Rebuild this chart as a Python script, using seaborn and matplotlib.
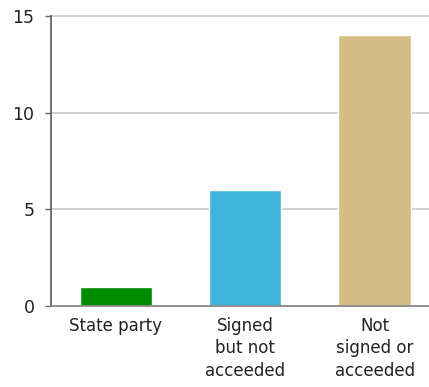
import matplotlib
matplotlib.use("Agg")
import matplotlib.pyplot as plt
import seaborn as sns
import pandas as pd

categories = ["State party", "Signed\nbut not\nacceeded", "Not\nsigned or\nacceeded"]
counts = [1, 6, 14]
colors = ["#008C00", "#41B4DC", "#D4BE86"]
yticks = [0, 5, 10, 15]

sns.set_style("white")
plt.rcParams["font.family"] = ["DejaVu Sans"]

df = pd.DataFrame({"category": categories, "count": counts})

fig = plt.figure(figsize=(4.29, 3.87), dpi=100)
ax = fig.add_axes([0.119, 0.209, 0.881, 0.75])

sns.barplot(data=df, x="category", y="count", hue="category", palette=colors,
            width=0.56, legend=False, ax=ax, saturation=1)

ax.set_ylim(0, 15)
ax.set_xlim(-0.5, 2.42)
ax.set_yticks(yticks)
ax.set_yticklabels([str(t) for t in yticks], fontsize=12.5, color="#222222")
ax.set_xticklabels(categories, fontsize=12, color="#222222", linespacing=1.3)
ax.set_xlabel("")
ax.set_ylabel("")

# horizontal gridlines at each non-zero tick
for t in yticks[1:]:
    ax.axhline(t, color="#cccccc", lw=1.3, zorder=0, clip_on=False)

for side in ["top", "right"]:
    ax.spines[side].set_visible(False)
ax.spines["left"].set_color("#666666")
ax.spines["left"].set_linewidth(1.3)
ax.spines["bottom"].set_color("#888888")
ax.spines["bottom"].set_linewidth(1.3)

ax.tick_params(axis="y", length=4, width=1, color="#666666", pad=8, left=True)
ax.tick_params(axis="x", length=0, pad=8)

fig.savefig("out.png", dpi=100)
